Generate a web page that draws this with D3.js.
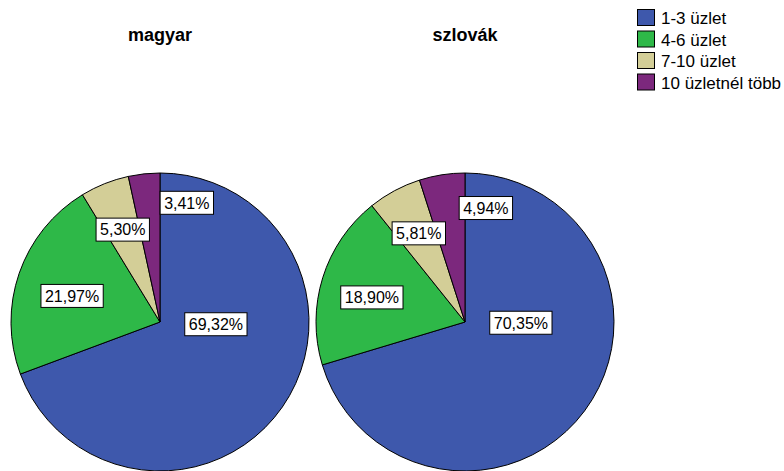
<!DOCTYPE html>
<html>
<head>
<meta charset="utf-8">
<script src="https://cdn.jsdelivr.net/npm/d3@7"></script>
<style>
  html, body { margin: 0; padding: 0; background: #fff; }
  svg { display: block; }
</style>
</head>
<body>
<svg id="chart" width="784" height="471"></svg>
<script>
// Shares of businesses by number of shops, per group
const categories = ["1-3 üzlet", "4-6 üzlet", "7-10 üzlet", "10 üzletnél több"];
const groups = ["magyar", "szlovák"];
const magyarValues = [69.32, 21.97, 5.30, 3.41];
const szlovakValues = [70.35, 18.90, 5.81, 4.94];
const colors = ["#3E58AC", "#2EB848", "#D3CE97", "#7C287D"];

// Label anchors, in units of the radius, relative to each pie centre
const labelAnchors = [
  [[0.375, 0.015], [-0.59, -0.175], [-0.25, -0.62], [0.18, -0.80]],
  [[0.375, 0.005], [-0.625, -0.165], [-0.31, -0.595], [0.14, -0.765]]
];

const seriesList = [magyarValues, szlovakValues];
const font = "Arial, 'Liberation Sans', sans-serif";

const svg = d3.select("#chart");
const R = 149;
const centres = d3.scalePoint().domain(groups).range([160, 465]);
const cy = 322;

const pie = d3.pie().sort(null).value(d => d);
const arc = d3.arc().innerRadius(0).outerRadius(R);
const fmt = v => d3.format(".2f")(v).replace(".", ",") + "%";

groups.forEach((g, gi) => {
  const cx = centres(g);
  const root = svg.append("g").attr("transform", `translate(${cx},${cy})`);

  root.selectAll("path.slice")
    .data(pie(seriesList[gi]))
    .join("path")
    .attr("class", "slice")
    .attr("d", arc)
    .attr("fill", (d, i) => colors[i])
    .attr("stroke", "#000")
    .attr("stroke-width", 1)
    .attr("stroke-linejoin", "round");

  svg.append("text")
    .attr("x", cx)
    .attr("y", 41)
    .attr("text-anchor", "middle")
    .attr("font-family", font)
    .attr("font-weight", "bold")
    .attr("font-size", 18)
    .attr("fill", "#000")
    .text(g);

  const labels = root.selectAll("g.lbl")
    .data(seriesList[gi])
    .join("g")
    .attr("class", "lbl")
    .attr("transform", (d, i) => `translate(${labelAnchors[gi][i][0] * R},${labelAnchors[gi][i][1] * R})`);

  labels.each(function(d) {
    const el = d3.select(this);
    const t = el.append("text")
      .attr("text-anchor", "middle")
      .attr("dy", "0.36em")
      .attr("font-family", font)
      .attr("font-size", 16)
      .attr("fill", "#000")
      .text(fmt(d));
    const bb = t.node().getBBox();
    el.insert("rect", "text")
      .attr("x", bb.x - 4)
      .attr("y", -11.5)
      .attr("width", bb.width + 8)
      .attr("height", 23)
      .attr("fill", "#fff")
      .attr("stroke", "#000")
      .attr("stroke-width", 1);
  });
});

// Legend
const legend = svg.append("g").attr("transform", "translate(637,9)");
const rows = legend.selectAll("g")
  .data(categories)
  .join("g")
  .attr("transform", (d, i) => `translate(0,${i * 21.5})`);
rows.append("rect")
  .attr("x", 0.5).attr("y", 0.5)
  .attr("width", 17).attr("height", 16)
  .attr("fill", (d, i) => colors[i])
  .attr("stroke", "#000")
  .attr("stroke-width", 1);
rows.append("text")
  .attr("x", 24)
  .attr("y", 15)
  .attr("font-family", font)
  .attr("font-size", 17)
  .attr("fill", "#000")
  .text(d => d);
</script>
</body>
</html>
